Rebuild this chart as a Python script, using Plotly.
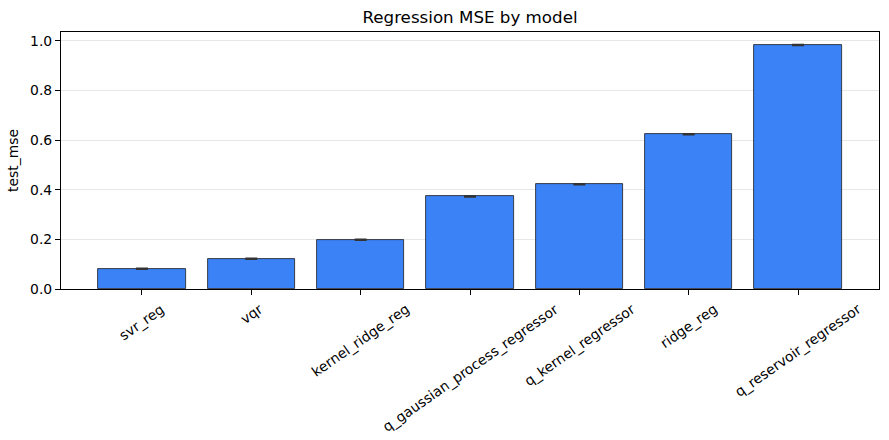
import plotly.graph_objects as go

models = ["svr_reg", "vqr", "kernel_ridge_reg", "q_gaussian_process_regressor",
          "q_kernel_regressor", "ridge_reg", "q_reservoir_regressor"]
test_mse = [0.082, 0.122, 0.199, 0.373, 0.422, 0.624, 0.984]
mse_std = [0.002, 0.002, 0.002, 0.002, 0.002, 0.002, 0.002]
y_ticks = [0.0, 0.2, 0.4, 0.6, 0.8, 1.0]

x_idx = list(range(len(models)))

fig = go.Figure()
fig.add_trace(go.Bar(
    x=x_idx, y=test_mse, width=0.8,
    marker=dict(color="#3b82f6", line=dict(color="#1a1a1a", width=0.8)),
    error_y=dict(type="data", array=mse_std, visible=True,
                 color="#333333", thickness=1.5, width=6),
    showlegend=False,
))

font = "DejaVu Sans"
for i, name in zip(x_idx, models):
    fig.add_annotation(
        x=i, xref="x", y=0, yref="paper", yshift=-9,
        xanchor="center", yanchor="top", textangle=-35,
        text=name, showarrow=False,
        font=dict(family=font, size=13.9, color="black"),
    )

fig.update_layout(
    width=889, height=440,
    margin=dict(l=61, r=10, t=32, b=151),
    paper_bgcolor="white", plot_bgcolor="white",
    font=dict(family=font, size=13.9, color="black"),
    title=dict(text="Regression MSE by model", x=0.5287, xanchor="center",
               y=1 - 17 / 440, yanchor="middle",
               font=dict(family=font, size=16.7, color="black")),
    bargap=0,
)
fig.update_xaxes(
    range=[-0.74, 6.74],
    tickmode="array", tickvals=x_idx, showticklabels=False,
    ticks="outside", ticklen=5, tickwidth=1.1, tickcolor="black",
    showline=True, linecolor="black", linewidth=1.1, mirror=True,
    showgrid=False, zeroline=False,
)
fig.update_yaxes(
    range=[0, 1.036],
    tickmode="array", tickvals=y_ticks, ticktext=[f"{v:.1f}" for v in y_ticks],
    ticks="outside", ticklen=5, tickwidth=1.1, tickcolor="black",
    showline=True, linecolor="black", linewidth=1.1, mirror=True,
    showgrid=True, gridcolor="rgba(176,176,176,0.3)", gridwidth=1,
    zeroline=False,
    title=dict(text="test_mse", standoff=8,
               font=dict(family=font, size=13.9, color="black")),
    tickfont=dict(family=font, size=13.9, color="black"),
)

fig.write_html("out.html")
